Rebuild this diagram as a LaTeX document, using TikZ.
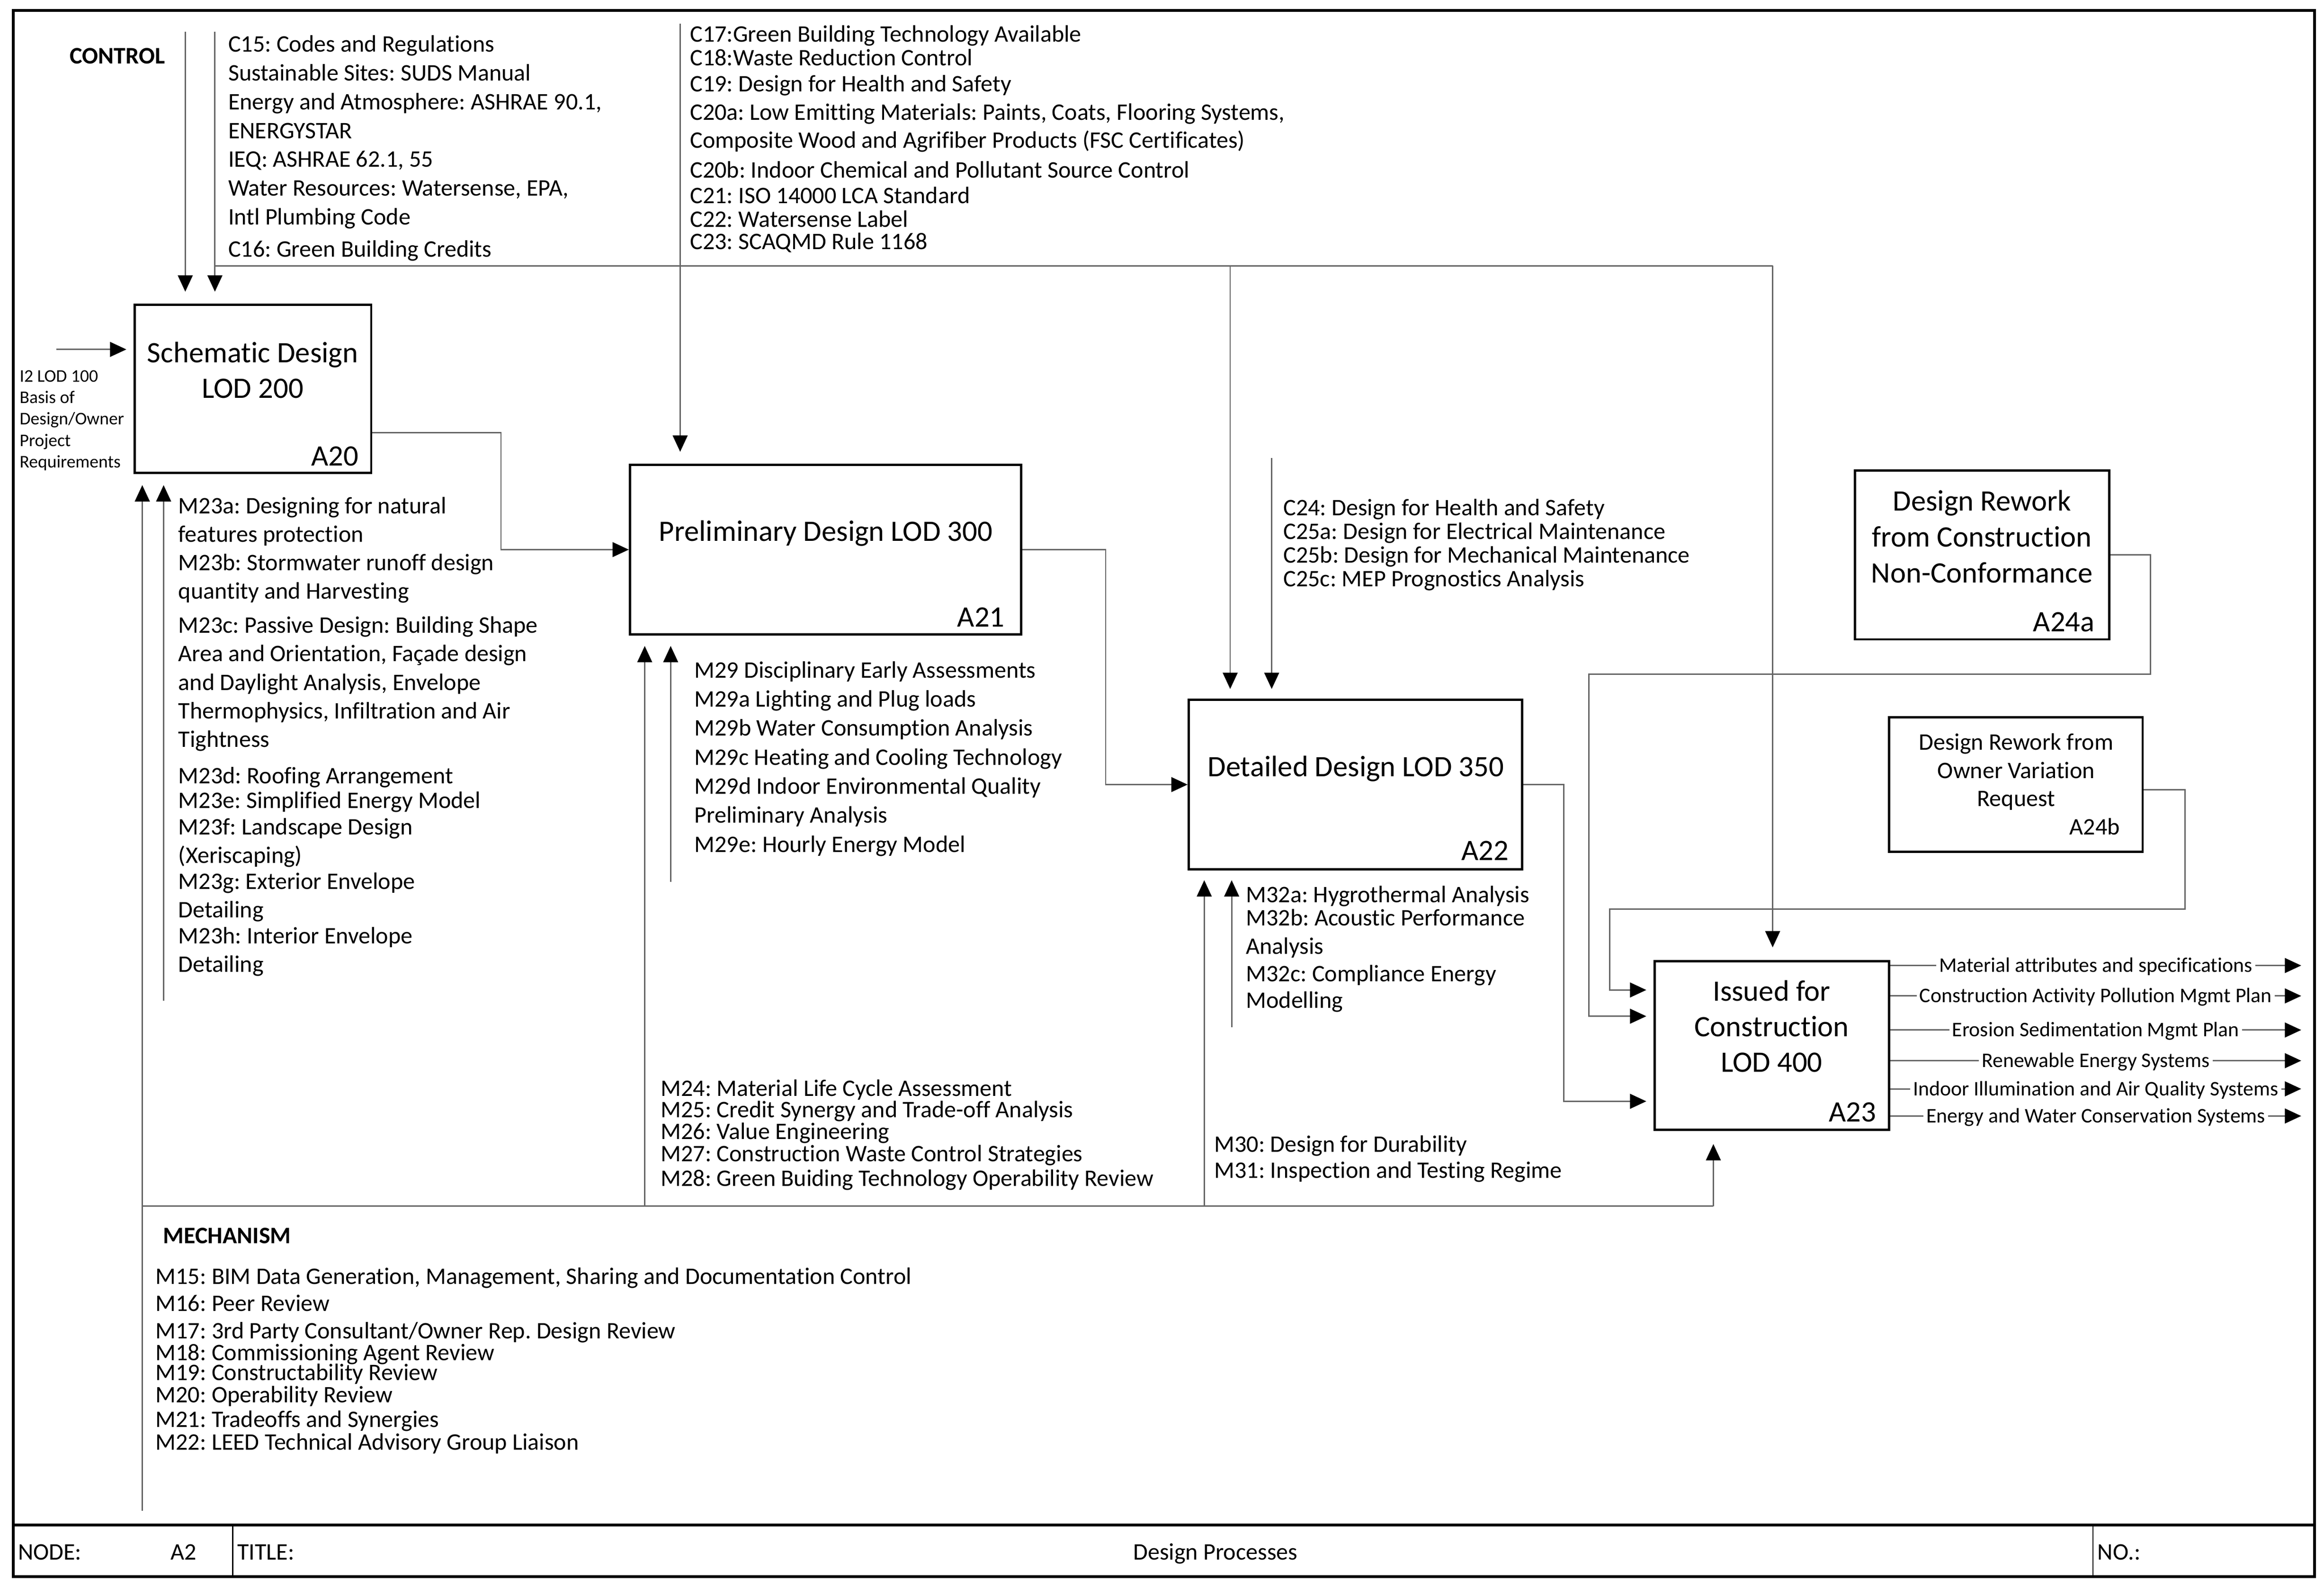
\documentclass[tikz,border=0pt]{standalone}
\usepackage{fontspec}
\setmainfont{Carlito}[Ligatures={NoCommon}]
\frenchspacing
\usetikzlibrary{arrows.meta}
\newcommand{\fls}{\rule{0pt}{0.85em}}
\begin{document}
\begin{tikzpicture}[x=1pt,y=-1pt,
  conn/.style={draw=black!60, line width=0.9pt},
  arr/.style={-{Triangle[length=11pt,width=10pt,color=black]}},
  act/.style={draw=black, line width=1.5pt, inner sep=0pt},
  body/.style={font={\fontsize{16}{#1}\selectfont\lineskiplimit-50pt}, align=left, anchor=north west, inner sep=0pt, outer sep=0pt},
  small/.style={font={\fontsize{12}{#1}\selectfont\lineskiplimit-50pt}, align=left, anchor=north west, inner sep=0pt, outer sep=0pt},
  ttl/.style={font={\fontsize{20}{24}\selectfont\lineskiplimit-50pt}, align=center, inner sep=0pt, outer sep=0pt},
  sl/.style={text height=12.8pt, text depth=0pt},
  idl/.style={font={\fontsize{20}{24}\selectfont}, inner sep=0pt, anchor=east, text height=12.8pt, text depth=0pt},
  olbl/.style={font={\fontsize{14}{16}\selectfont}, fill=white, inner xsep=2pt, inner ysep=1pt, text height=8.96pt, text depth=0pt},
  hdr/.style={font={\fontsize{16}{19}\selectfont\bfseries}, inner sep=0pt, anchor=west, text height=10.24pt, text depth=0pt},
  tb/.style={font={\fontsize{16}{19}\selectfont}, inner sep=0pt, text height=10.24pt, text depth=0pt}
]
\useasboundingbox (0,0) rectangle (1568,1071);

% frame and title block
\draw[line width=1.8pt] (9,7) rectangle (1561.5,1063.5);
\draw[line width=1.8pt] (9,1028.7) -- (1561.5,1028.7);
\draw[line width=0.8pt] (157,1028.7) -- (157,1063.5);
\draw[line width=0.8pt] (1412,1028.7) -- (1412,1063.5);
\node[tb, anchor=west] (nodelbl) at (12,1047) {NODE:};
\node[tb, anchor=west] (nodeval) at (115,1047) {A2};
\node[tb, anchor=west] (titlelbl) at (160,1047) {TITLE:};
\node[tb] (titleval) at (820,1047) {Design Processes};
\node[tb, anchor=west] (nolbl) at (1415,1047) {NO.:};

% activity boxes
\node[act, minimum width=159.5pt, minimum height=113.5pt] (A20) at (170.75,262.25) {};
\node[act, minimum width=264pt, minimum height=114.5pt] (A21) at (557,370.75) {};
\node[act, minimum width=225pt, minimum height=114.5pt] (A22) at (914.5,529.25) {};
\node[act, minimum width=158pt, minimum height=113.7pt] (A23) at (1195.5,705.15) {};
\node[act, minimum width=171.5pt, minimum height=114pt] (A24a) at (1337.25,374.3) {};
\node[act, minimum width=171pt, minimum height=90.8pt] (A24b) at (1360.15,529.2) {};

% box titles
\node[ttl, anchor=north] (t20) at (170.5,227.4) {\fls Schematic Design\\LOD 200};
\node[ttl, sl] (t21) at (557.2,358.5) {Preliminary Design LOD 300};
\node[ttl, sl] (t22) at (914.8,517.4) {Detailed Design LOD 350};
\node[ttl, anchor=north] (t23) at (1195.3,658.1) {\fls Issued for\\Construction\\LOD 400};
\node[ttl, anchor=north, font={\fontsize{20}{24.3}\selectfont}] (t24a) at (1337.2,327.4) {\fls Design Rework\\from Construction\\Non-Conformance};
\node[ttl, anchor=north, font={\fontsize{16}{19.1}\selectfont}] (t24b) at (1360.3,492.2) {\fls Design Rework from\\Owner Variation\\Request};

% box ids
\node[idl] (l20) at (242,307.7) {A20};
\node[idl] (l21) at (678,416.3) {A21};
\node[idl] (l22) at (1018,574) {A22};
\node[idl] (l23) at (1266,750.4) {A23};
\node[idl] (l24a) at (1413.4,419.6) {A24a};
\node[idl, font={\fontsize{16}{19}\selectfont}, text height=10.24pt] (l24b) at (1430.4,558.1) {A24b};

% headers
\node[hdr] (control) at (47,37.7) {CONTROL};
\node[hdr] (mechanism) at (110,833.6) {MECHANISM};

% input
\node[small=14.5] (inlbl) at (13.3,247.3) {\fls I2 LOD 100\\Basis of\\Design/Owner\\Project\\Requirements};
\coordinate (i2) at (38,235.7);
\draw[conn,arr,shorten >=5pt] (i2) -- (i2 -| A20.west);

% control text
\node[body=19.4] (c15) at (154,21.5) {\fls C15: Codes and Regulations\\Sustainable Sites: SUDS Manual\\Energy and Atmosphere: ASHRAE 90.1,\\ENERGYSTAR\\IEQ: ASHRAE 62.1, 55\\Water Resources: Watersense, EPA,\\Intl Plumbing Code\\[2.4pt]C16: Green Building Credits};
\node[body=16] (c17) at (465.6,14.7) {\fls C17:Green Building Technology Available\\[-0.2pt]C18:Waste Reduction Control\\[1.8pt]C19: Design for Health and Safety\\[3pt]C20a: Low Emitting Materials: Paints, Coats, Flooring Systems,\\[2.9pt]Composite Wood and Agrifiber Products (FSC Certificates)\\[4.3pt]C20b: Indoor Chemical and Pollutant Source Control\\[1pt]C21: ISO 14000 LCA Standard\\C22: Watersense Label\\[-1pt]C23: SCAQMD Rule 1168};
\node[body=16] (c24) at (865.9,334.1) {\fls C24: Design for Health and Safety\\C25a: Design for Electrical Maintenance\\C25b: Design for Mechanical Maintenance\\C25c: MEP Prognostics Analysis};

% mechanism text
\node[body=19.2] (m23) at (120.4,332.9) {\fls M23a: Designing for natural\\features protection\\M23b: Stormwater runoff design\\quantity and Harvesting\\[3.8pt]M23c: Passive Design: Building Shape\\Area and Orientation, Façade design\\and Daylight Analysis, Envelope\\Thermophysics, Infiltration and Air\\Tightness\\[5.5pt]M23d: Roofing Arrangement\\[-2.7pt]M23e: Simplified Energy Model\\[-1.2pt]M23f: Landscape Design\\(Xeriscaping)\\[-1.8pt]M23g: Exterior Envelope\\Detailing\\[-1.7pt]M23h: Interior Envelope\\Detailing};
\node[body=19.6] (m29) at (468.6,443.6) {\fls M29 Disciplinary Early Assessments\\M29a Lighting and Plug loads\\M29b Water Consumption Analysis\\M29c Heating and Cooling Technology\\M29d Indoor Environmental Quality\\Preliminary Analysis\\M29e: Hourly Energy Model};
\node[body=18.5] (m32) at (840.7,595.2) {\fls M32a: Hygrothermal Analysis\\[-2.8pt]M32b: Acoustic Performance\\[0.6pt]Analysis\\M32c: Compliance Energy\\[-0.5pt]Modelling};
\node[body=15] (m24) at (445.8,725.8) {\fls M24: Material Life Cycle Assessment\\[-0.6pt]M25: Credit Synergy and Trade-off Analysis\\[-0.2pt]M26: Value Engineering\\M27: Construction Waste Control Strategies\\[1.5pt]M28: Green Buiding Technology Operability Review};
\node[body=17.6] (m30) at (819.3,763.5) {\fls M30: Design for Durability\\M31: Inspection and Testing Regime};
\node[body=15] (m15) at (105,852.6) {\fls M15: BIM Data Generation, Management, Sharing and Documentation Control\\[3.3pt]M16: Peer Review\\[3.4pt]M17: 3rd Party Consultant/Owner Rep. Design Review\\[-0.3pt]M18: Commissioning Agent Review\\[-1.6pt]M19: Constructability Review\\[0.2pt]M20: Operability Review\\[1.6pt]M21: Tradeoffs and Synergies\\[0.3pt]M22: LEED Technical Advisory Group Liaison};

% control arrows
\coordinate (ci1) at (125,21.4);
\coordinate (ci2) at (145,21.4);
\draw[conn,arr,shorten >=8pt] (ci1) -- (ci1 |- A20.north);
\draw[conn,arr,shorten >=8pt] (ci2) -- (ci2 |- A20.north);
\coordinate (cj) at (145,179.3);
\coordinate (cA22) at (830,179.3);
\coordinate (cA23) at (1196,179.3);
\draw[conn] (cj) -- (cA23);
\draw[conn,arr,shorten >=6.5pt] (cA22) -- (cA22 |- A22.north);
\draw[conn,arr,shorten >=8.5pt] (cA23) -- (cA23 |- A23.north);
\coordinate (c17t) at (458.9,15.9);
\draw[conn,arr,shorten >=8pt] (c17t) -- (c17t |- A21.north);
\coordinate (c24t) at (858,309);
\draw[conn,arr,shorten >=6.5pt] (c24t) -- (c24t |- A22.north);

% mechanism arrows
\coordinate (mb) at (96,1019);
\draw[conn,arr,shorten >=7.5pt] (mb) -- (mb |- A20.south);
\coordinate (mj) at (96,813.6);
\coordinate (m21) at (435,813.6);
\coordinate (m22) at (812.5,813.6);
\coordinate (mA23) at (1156,813.6);
\draw[conn] (mj) -- (mA23);
\draw[conn,arr,shorten >=7pt] (m21) -- (m21 |- A21.south);
\draw[conn,arr,shorten >=6.5pt] (m22) -- (m22 |- A22.south);
\draw[conn,arr,shorten >=9pt] (mA23) -- (mA23 |- A23.south);
\coordinate (m23b) at (110.4,675);
\draw[conn,arr,shorten >=7.5pt] (m23b) -- (m23b |- A20.south);
\coordinate (m29b) at (452.5,595);
\draw[conn,arr,shorten >=7pt] (m29b) -- (m29b |- A21.south);
\coordinate (m32b) at (831,693);
\draw[conn,arr,shorten >=6.5pt] (m32b) -- (m32b |- A22.south);

% flows between activities
\draw[conn,arr] (A20.east |- 0,291.8) -- (338,291.8) -- (338,370.75) -- (A21.west);
\draw[conn,arr] (A21.east) -- (746,370.75) -- (746,529.25) -- (A22.west);
\draw[conn,arr,shorten >=5pt] (A22.east) -- (1055,529.25) -- (1055,742.9) -- (A23.west |- 0,742.9);
\draw[conn,arr,shorten >=5pt] (A24a.east) -- (1451,374.3) -- (1451,454.8) -- (1072,454.8) -- (1072,685.5) -- (A23.west |- 0,685.5);
\draw[conn,arr,shorten >=5pt] (A24b.east |- 0,532.7) -- (1474.2,532.7) -- (1474.2,613.1) -- (1086,613.1) -- (1086,667.8) -- (A23.west |- 0,667.8);

% outputs
\foreach \yy/\lbl [count=\i] in {651.3/Material attributes and specifications, 671.8/Construction Activity Pollution Mgmt Plan, 694.8/Erosion Sedimentation Mgmt Plan, 715.5/Renewable Energy Systems, 734.5/Indoor Illumination and Air Quality Systems, 752.8/Energy and Water Conservation Systems}{
  \coordinate (oe\i) at (1552.6,\yy);
  \draw[conn,arr] (A23.east |- oe\i) -- (oe\i);
  \node[olbl] (ol\i) at (1414,\yy) {\lbl};
}
\end{tikzpicture}
\end{document}
